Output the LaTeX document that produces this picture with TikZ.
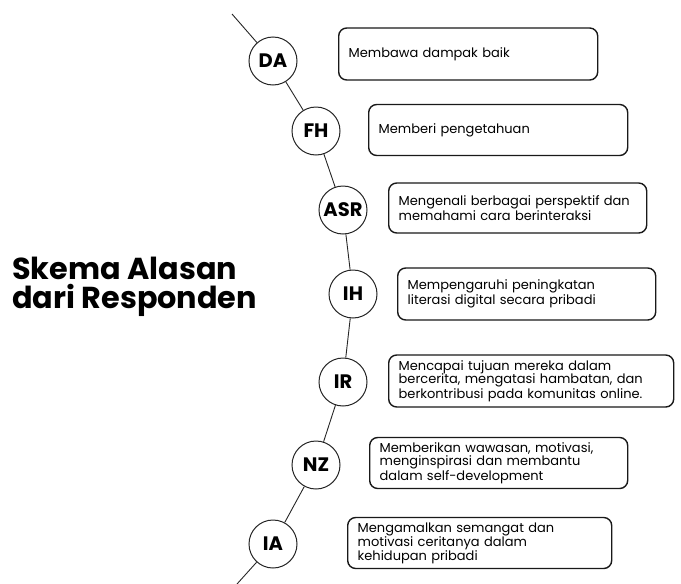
\documentclass[tikz,border=0pt]{standalone}
\usepackage{fontspec}
\setmainfont{Poppins}

\tikzset{
  person/.style={circle, draw=black!85, line width=1pt, minimum size=48pt, inner sep=0pt,
    fill=white, font=\fontsize{19.5}{19.5}\selectfont\bfseries},
  reason/.style={draw=black!90, line width=1.4pt, rounded corners=8pt, anchor=west,
    inner xsep=10pt, inner ysep=0pt, minimum height=51pt, align=left,
    font=\fontsize{13}{13.4}\selectfont}
}

\begin{document}
\begin{tikzpicture}[x=1pt,y=-1pt]
  \useasboundingbox (0,0) rectangle (681,584);
  % title
  \node[anchor=west, align=left, inner sep=0pt, font=\fontsize{30.3}{29}\selectfont\bfseries]
    (title) at (12,287) {Skema Alasan\\dari Responden};
  % respondents
  \node[person] (DA) at (273,61) {DA};
  \node[person] (FH) at (316,131) {FH};
  \node[person] (ASR) at (343,210) {ASR};
  \node[person] (IH) at (353,294) {IH};
  \node[person] (IR) at (343,382) {IR};
  \node[person] (NZ) at (316,465) {NZ};
  \node[person] (IA) at (273,544) {IA};
  % line through the circles
  \coordinate (top) at (232,14);
  \coordinate (bottom) at (237,584);
  \draw[black!85, line width=0.9pt] (top) -- (DA) -- (FH) -- (ASR) -- (IH) -- (IR) -- (NZ) -- (IA) -- (bottom);
  % reasons
  \node[reason, text width=239pt, minimum height=52pt] (rDA) at (338,54) {Membawa dampak baik};
  \node[reason, text width=239pt] (rFH) at (368,130) {Memberi pengetahuan};
  \node[reason, text width=238pt, minimum height=50pt] (rASR) at (388,208)
    {Mengenali berbagai perspektif dan\\memahami cara berinteraksi};
  \node[reason, text width=238pt, minimum height=52pt] (rIH) at (397,294)
    {Mempengaruhi peningkatan\\literasi digital secara pribadi};
  \node[reason, text width=265pt, minimum height=52pt] (rIR) at (388,381)
    {Mencapai tujuan mereka dalam\\bercerita, mengatasi hambatan, dan\\berkontribusi pada komunitas online.};
  \node[reason, text width=238pt] (rNZ) at (369,463)
    {Memberikan wawasan, motivasi,\\menginspirasi dan membantu\\dalam self-development};
  \node[reason, text width=244pt] (rIA) at (347,543)
    {Mengamalkan semangat dan\\motivasi ceritanya dalam\\kehidupan pribadi};
\end{tikzpicture}
\end{document}
